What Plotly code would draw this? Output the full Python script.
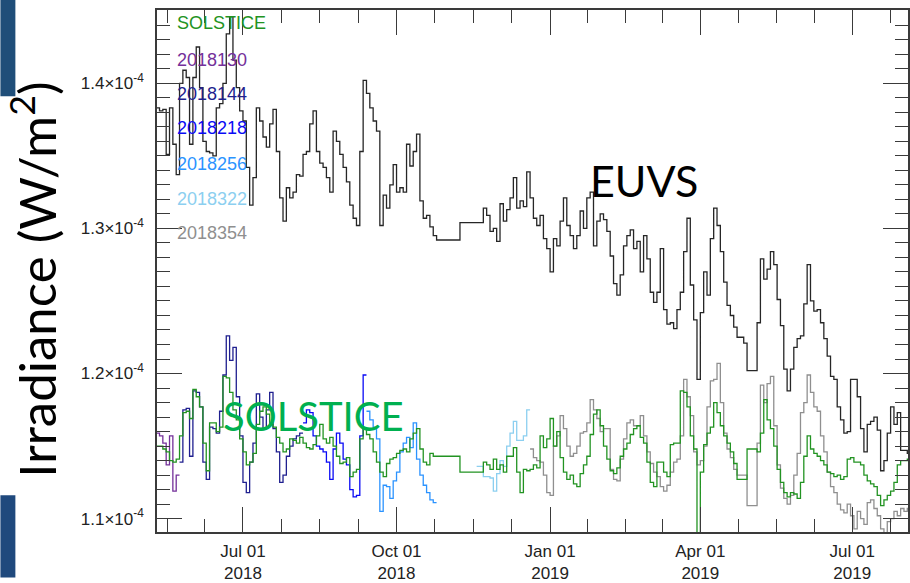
import pandas as pd
import plotly.graph_objects as go

# ---------------- data (values in units of 1e-4 W/m^2, one value per 2-day step) ----------------
euvs_start = "2018-05-10"
euvs_vals = [
    1.383, 1.381, 1.382, 1.351, 1.383, 1.358, 1.337, 1.400, 1.409, 1.404,
    1.358, 1.404, 1.425, 1.397, 1.360, 1.353, 1.352, 1.350, 1.383, 1.386,
    1.400, 1.434, 1.446, 1.416, 1.397, 1.381, 1.374, 1.342, 1.316, 1.335,
    1.383, 1.374, 1.363, 1.356, 1.372, 1.382, 1.353, 1.321, 1.305, 1.328,
    1.321, 1.325, 1.337, 1.336, 1.351, 1.353, 1.372, 1.381, 1.353, 1.345,
    1.342, 1.335, 1.325, 1.367, 1.360, 1.351, 1.342, 1.332, 1.316, 1.307,
    1.302, 1.353, 1.402, 1.393, 1.383, 1.374, 1.367, 1.302, 1.323, 1.314,
    1.330, 1.344, 1.325, 1.328, 1.325, 1.358, 1.343, 1.353, 1.365, 1.319,
    1.307, 1.309, 1.301, 1.295, 1.292, 1.292, 1.292, 1.292, 1.292, 1.292,
    1.292, 1.304, 1.304, 1.304, 1.304, 1.304, 1.304, 1.304, 1.314, 1.309,
    1.298, 1.300, 1.291, 1.317, 1.305, 1.313, 1.321, 1.335, 1.314, 1.319,
    1.315, 1.339, 1.321, 1.307, 1.302, 1.309, 1.293, 1.286, 1.270, 1.293,
    1.288, 1.305, 1.321, 1.302, 1.295, 1.286, 1.295, 1.312, 1.300, 1.321,
    1.325, 1.288, 1.305, 1.310, 1.306, 1.298, 1.281, 1.262, 1.254, 1.268,
    1.288, 1.295, 1.299, 1.286, 1.291, 1.270, 1.295, 1.279, 1.256, 1.249,
    1.256, 1.286, 1.244, 1.234, 1.235, 1.231, 1.244, 1.256, 1.284, 1.307,
    1.261, 1.237, 1.196, 1.242, 1.270, 1.254, 1.293, 1.314, 1.302, 1.284,
    1.263, 1.247, 1.240, 1.232, 1.225, 1.225, 1.221, 1.202, 1.202, 1.202,
    1.235, 1.279, 1.265, 1.272, 1.284, 1.275, 1.251, 1.233, 1.203, 1.188,
    1.203, 1.218, 1.224, 1.226, 1.248, 1.275, 1.250, 1.243, 1.244, 1.235,
    1.224, 1.212, 1.198, 1.196, 1.177, 1.168, 1.159, 1.160, 1.196, 1.196,
    1.184, 1.162, 1.146, 1.165, 1.167, 1.170, 1.161, 1.133, 1.140, 1.159,
    1.177, 1.165, 1.173, 1.147, 1.147, 1.145,
]

solstice_start = "2018-05-10"
solstice_vals = [
    1.150, 1.150, 1.148, 1.146, 1.140, 1.139, 1.141, 1.157, 1.173, 1.174,
    1.169, 1.189, 1.184, 1.177, 1.152, 1.133, 1.166, 1.166, 1.160, 1.163,
    1.198, 1.197, 1.187, 1.175, 1.168, 1.155, 1.146, 1.137, 1.139, 1.145,
    1.165, 1.174, 1.177, 1.172, 1.165, 1.163, 1.156, 1.152, 1.146, 1.148,
    1.155, 1.154, 1.152, 1.156, 1.152, 1.149, 1.148, 1.151, 1.157, 1.165,
    1.155, 1.152, 1.156, 1.150, 1.143, 1.138, 1.139, 1.142, 1.129, 1.132,
    1.134, 1.155, 1.162, 1.158, 1.155, 1.146, 1.139, 1.132, 1.129, 1.138,
    1.141, 1.142, 1.145, 1.147, 1.148, 1.146, 1.155, 1.159, 1.162, 1.148,
    1.139, 1.137, 1.145, 1.143, 1.143, 1.143, 1.143, 1.143, 1.143, 1.143,
    1.143, 1.132, 1.132, 1.132, 1.132, 1.132, 1.132, 1.132, 1.139, 1.137,
    1.134, 1.141, 1.134, 1.137, 1.132, 1.143, 1.143, 1.149, 1.132, 1.118,
    1.134, 1.133, 1.134, 1.137, 1.135, 1.157, 1.149, 1.155, 1.169, 1.150,
    1.160, 1.142, 1.132, 1.127, 1.130, 1.124, 1.122, 1.131, 1.137, 1.143,
    1.158, 1.172, 1.175, 1.164, 1.150, 1.141, 1.133, 1.131, 1.135, 1.143,
    1.148, 1.152, 1.158, 1.162, 1.164, 1.156, 1.152, 1.139, 1.125, 1.122,
    1.139, 1.139, 1.132, 1.129, 1.151, 1.152, 1.152, 1.188, 1.187, 1.177,
    1.157, 1.148, 1.080, 1.132, 1.151, 1.159, 1.163, 1.180, 1.173, 1.164,
    1.157, 1.152, 1.146, 1.138, 1.127, 1.127, 1.127, 1.148, 1.148, 1.148,
    1.146, 1.159, 1.182, 1.168, 1.162, 1.150, 1.134, 1.125, 1.118, 1.115,
    1.118, 1.117, 1.114, 1.125, 1.143, 1.157, 1.148, 1.145, 1.143, 1.140,
    1.137, 1.132, 1.131, 1.129, 1.130, 1.127, 1.129, 1.141, 1.142, 1.139,
    1.139, 1.137, 1.130, 1.126, 1.124, 1.122, 1.116, 1.109, 1.113, 1.116,
    1.119, 1.125, 1.137, 1.140, 1.140, 1.141,
]

v2018130_start = "2018-05-10"
v2018130_vals = [1.159, 1.157, 1.152, 1.137, 1.157, 1.119, 1.130]

v2018144_start = "2018-05-24"
v2018144_vals = [
    1.139, 1.175, 1.176, 1.143, 1.188, 1.187, 1.177, 1.139, 1.127, 1.163,
    1.162, 1.159, 1.174, 1.199, 1.226, 1.209, 1.218, 1.184, 1.157, 1.125,
    1.118, 1.139, 1.152, 1.186, 1.170, 1.162, 1.175, 1.187, 1.162, 1.146,
    1.125, 1.130, 1.143, 1.150, 1.155, 1.157, 1.159,
]

v2018218_start = "2018-08-06"
v2018218_vals = [
    1.166, 1.175, 1.173, 1.157, 1.150, 1.148, 1.146, 1.139, 1.127, 1.148,
    1.159, 1.152, 1.141, 1.137, 1.120, 1.115, 1.116, 1.157, 1.199,
]

v2018256_start = "2018-09-13"
v2018256_vals = [
    1.174, 1.168, 1.163, 1.155, 1.105, 1.123, 1.122, 1.114, 1.126, 1.132,
    1.146, 1.152, 1.156, 1.149, 1.166, 1.141, 1.130, 1.123, 1.118, 1.113,
    1.111,
]

v2018322_start = "2018-11-18"
v2018322_vals = [
    1.136, 1.136, 1.129, 1.129, 1.128, 1.119, 1.131, 1.140, 1.136, 1.150,
    1.159, 1.167, 1.154, 1.154, 1.157, 1.175,
]

v2018354_start = "2018-12-20"
v2018354_vals = [
    1.148, 1.142, 1.140, 1.139, 1.130, 1.118, 1.116, 1.150, 1.157, 1.171,
    1.162, 1.150, 1.143, 1.145, 1.150, 1.159, 1.160, 1.166, 1.182, 1.175,
    1.169, 1.160, 1.162, 1.162, 1.134, 1.127, 1.126, 1.141, 1.155, 1.166,
    1.168, 1.164, 1.164, 1.171, 1.157, 1.146, 1.138, 1.132, 1.129, 1.122,
    1.119, 1.123, 1.132, 1.139, 1.141, 1.157, 1.196, 1.184, 1.171, 1.146,
    1.137, 1.140, 1.150, 1.177, 1.195, 1.196, 1.207, 1.180, 1.159, 1.148,
    1.142, 1.134, 1.130, 1.130, 1.130, 1.109, 1.109, 1.109, 1.152, 1.192,
    1.180, 1.193, 1.198, 1.164, 1.137, 1.121, 1.114, 1.110, 1.116, 1.130,
    1.145, 1.173, 1.180, 1.199, 1.187, 1.177, 1.174, 1.157, 1.146, 1.132,
    1.122, 1.118, 1.110, 1.106, 1.104, 1.110, 1.102, 1.093, 1.105, 1.100,
    1.096, 1.111, 1.113, 1.107, 1.102, 1.093, 1.089, 1.098, 1.100, 1.105,
    1.102, 1.107, 1.105, 1.107,
]

ytick_vals = [1.1, 1.2, 1.3, 1.4]
ytick_text = ["1.1×10<sup>-4</sup>", "1.2×10<sup>-4</sup>", "1.3×10<sup>-4</sup>", "1.4×10<sup>-4</sup>"]
xtick_dates = ["2018-07-01", "2018-10-01", "2019-01-01", "2019-04-01", "2019-07-01"]
xtick_text = ["Jul 01<br>2018", "Oct 01<br>2018", "Jan 01<br>2019", "Apr 01<br>2019", "Jul 01<br>2019"]
quarter_bounds = ["2018-04-01", "2018-07-01", "2018-10-01", "2019-01-01",
                  "2019-04-01", "2019-07-01", "2019-10-01"]

label_names = ["SOLSTICE", "2018130", "2018144", "2018218", "2018256", "2018322", "2018354"]

# ---------------- styling ----------------
C_GREEN = "#229322"
C_PURPLE = "#74309a"
C_NAVY = "#1f1f8f"
C_BLUE = "#0a0af5"
C_DODGER = "#2b93ff"
C_SKY = "#8ccff0"
C_GRAY = "#8f8f8f"
C_BLACK = "#262626"
AX = "#3a3a3a"
FONT = "Liberation Sans, Arial, sans-serif"
SLIDE_FONT = "Lato, Open Sans, sans-serif"

SCALE = 1e-4


def step_series(start, vals):
    dates = pd.date_range(start, periods=len(vals) + 1, freq="2D")
    y = [v * SCALE for v in vals] + [vals[-1] * SCALE]
    return dates, y


fig = go.Figure()

series = [
    (euvs_start, euvs_vals, C_BLACK, "EUVS"),
    (v2018130_start, v2018130_vals, C_PURPLE, "2018130"),
    (v2018144_start, v2018144_vals, C_NAVY, "2018144"),
    (v2018218_start, v2018218_vals, C_BLUE, "2018218"),
    (v2018256_start, v2018256_vals, C_DODGER, "2018256"),
    (v2018322_start, v2018322_vals, C_SKY, "2018322"),
    (v2018354_start, v2018354_vals, C_GRAY, "2018354"),
    (solstice_start, solstice_vals, C_GREEN, "SOLSTICE"),
]
for start, vals, col, name in series:
    xs, ys = step_series(start, vals)
    fig.add_trace(go.Scatter(x=xs, y=ys, mode="lines", name=name,
                             line=dict(color=col, width=1.3, shape="hv"),
                             showlegend=False))

# minor x ticks: 4 equal parts per quarter
qb = pd.to_datetime(quarter_bounds)
minor_x = []
for a, b in zip(qb[:-1], qb[1:]):
    for k in (1, 2, 3):
        minor_x.append(a + (b - a) * k / 4)

# ---------------- layout ----------------
L, R, T, B = 157, 0, 10, 46
W, H = 910, 583
pw = W - L - R
ph = H - T - B


def px(xp):
    return (xp - L) / pw


def py(yp):
    return (H - B - yp) / ph


fig.update_layout(
    width=W, height=H,
    margin=dict(l=L, r=R, t=T, b=B),
    paper_bgcolor="white", plot_bgcolor="white",
    font=dict(family=FONT, color="#222"),
)

fig.update_xaxes(
    type="date",
    range=["2018-05-10 12:00", "2019-08-03 10:00"],
    tickmode="array", tickvals=xtick_dates, ticktext=xtick_text,
    ticks="inside", ticklen=25, tickwidth=1.3, tickcolor=AX,
    showline=True, linecolor=AX, linewidth=1.5, mirror="ticks",
    showgrid=False, zeroline=False,
    tickfont=dict(size=17, color="#222", family=FONT),
    ticklabelstandoff=3,
    minor=dict(tickmode="array", tickvals=minor_x, ticks="inside",
               ticklen=13, tickwidth=1.3, tickcolor=AX, showgrid=False),
)

fig.update_yaxes(
    range=[1.0908e-4, 1.4505e-4],
    tickmode="array", tickvals=[v * SCALE for v in ytick_vals], ticktext=ytick_text,
    ticks="inside", ticklen=25, tickwidth=1.3, tickcolor=AX,
    showline=True, linecolor=AX, linewidth=1.5, mirror="ticks",
    showgrid=False, zeroline=False,
    tickfont=dict(size=17, color="#222", family=FONT),
    ticklabelstandoff=8,
    minor=dict(tickmode="linear", tick0=0, dtick=1e-6, ticks="inside",
               ticklen=13, tickwidth=1.3, tickcolor=AX, showgrid=False),
)

# label list in upper-left
label_colors = [C_GREEN, C_PURPLE, C_NAVY, C_BLUE, C_DODGER, C_SKY, C_GRAY]
label_y = [23.5, 60, 94.5, 129.5, 165.5, 200.5, 235.5]
for name, col, yc in zip(label_names, label_colors, label_y):
    fig.add_annotation(x=px(175), y=py(yc), xref="paper", yref="paper",
                       text=name, showarrow=False, xanchor="left", yanchor="middle",
                       font=dict(size=18, color=col, family=FONT))

# big slide labels
fig.add_annotation(x=px(645), y=py(182), xref="paper", yref="paper", text="EUVS",
                   showarrow=False, xanchor="center", yanchor="middle",
                   font=dict(size=43, color="black", family=SLIDE_FONT))
fig.add_annotation(x=px(314), y=py(420), xref="paper", yref="paper", text="SOLSTICE",
                   showarrow=False, xanchor="center", yanchor="middle",
                   font=dict(size=40, color="#00B050", family=SLIDE_FONT))
fig.add_annotation(x=px(33), y=py(282), xref="paper", yref="paper",
                   text="Irradiance (W/m<sup>2</sup>)", textangle=-90,
                   showarrow=False, xanchor="center", yanchor="middle",
                   font=dict(size=51, color="black", family=SLIDE_FONT))

# slide side bars
fig.add_shape(type="rect", xref="paper", yref="paper", x0=px(0), x1=px(15), y0=py(97), y1=py(0),
              fillcolor="#1F4E79", line=dict(width=0), layer="below")
fig.add_shape(type="rect", xref="paper", yref="paper", x0=px(0), x1=px(15), y0=py(583), y1=py(500),
              fillcolor="#1F497D", line=dict(width=0), layer="below")

fig.write_html("out.html",
               config={"displayModeBar": False},
               post_script="document.body.style.margin='0';document.body.style.overflow='hidden';")
